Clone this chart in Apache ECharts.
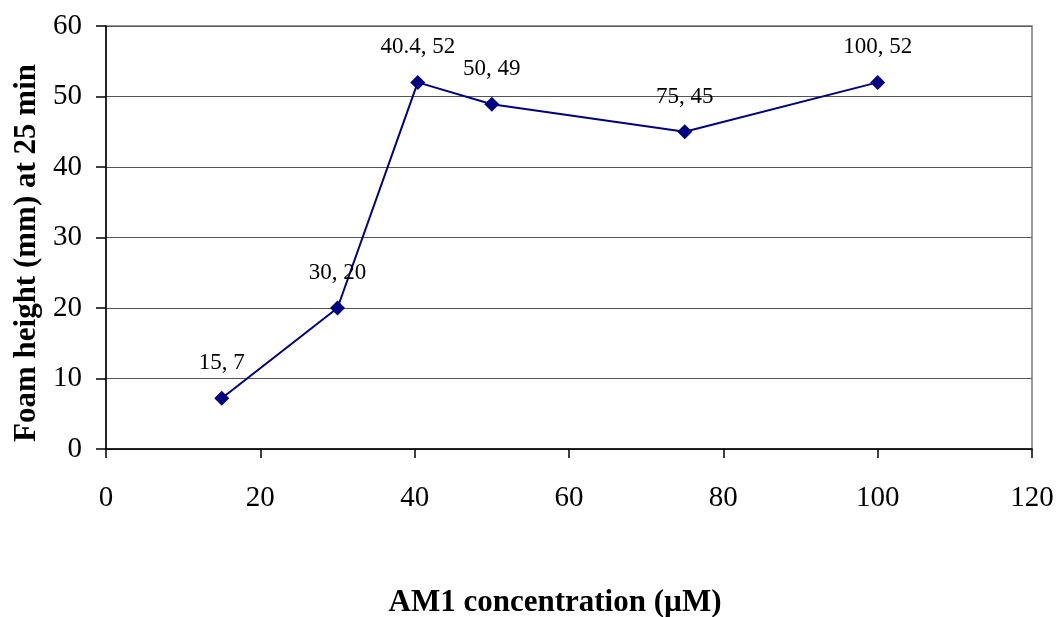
<!DOCTYPE html>
<html>
<head>
<meta charset="utf-8">
<script src="https://cdn.jsdelivr.net/npm/echarts@6/dist/echarts.min.js"></script>
<style>
html,body{margin:0;padding:0;background:#fff;}
#chart{width:1059px;height:617px;}
</style>
</head>
<body>
<div id="chart"></div>
<script>
const concentrations = [15, 30, 40.4, 50, 75, 100];
const foamHeights = [7.2, 20, 52, 48.9, 45, 52];
const pointLabels = ['15, 7', '30, 20', '40.4, 52', '50, 49', '75, 45', '100, 52'];
const xTitle = 'AM1 concentration (µM)';
const yTitle = 'Foam height (mm) at 25 min';

const FONT = '"Liberation Serif", "Times New Roman", serif';
const chart = echarts.init(document.getElementById('chart'));
chart.setOption({
  animation: false,
  backgroundColor: '#fff',
  grid: { left: 106, right: 27, top: 26, bottom: 168, show: true, borderColor: '#999', borderWidth: 2, backgroundColor: 'transparent' },
  xAxis: {
    type: 'value', min: 0, max: 120, interval: 20,
    axisLine: { show: true, onZero: false, lineStyle: { color: '#000', width: 1.5 } },
    axisTick: { show: true, inside: false, length: 9, lineStyle: { color: '#000', width: 1.5 } },
    axisLabel: { color: '#000', fontFamily: FONT, fontSize: 29, margin: 35 },
    splitLine: { show: false }
  },
  yAxis: {
    type: 'value', min: 0, max: 60, interval: 10,
    axisLine: { show: true, lineStyle: { color: '#000', width: 1.5 } },
    axisTick: { show: true, inside: false, length: 10, lineStyle: { color: '#000', width: 1.5 } },
    axisLabel: { color: '#000', fontFamily: FONT, fontSize: 29, margin: 24 },
    splitLine: { show: true, lineStyle: { color: '#555', width: 1 } }
  },
  graphic: [
    { type: 'text', x: 27, y: 253, rotation: Math.PI / 2,
      style: { text: yTitle, font: 'bold 31px ' + FONT, fill: '#000', textAlign: 'center', textVerticalAlign: 'middle' } },
    { type: 'text', x: 555, y: 603,
      style: { text: xTitle, font: 'bold 31px ' + FONT, fill: '#000', textAlign: 'center', textVerticalAlign: 'middle' } }
  ],
  series: [{
    type: 'line',
    data: concentrations.map((c, i) => [c, foamHeights[i]]),
    symbol: 'diamond', symbolSize: 15,
    lineStyle: { color: '#000080', width: 2 },
    itemStyle: { color: '#000080' },
    label: {
      show: true, position: 'top', distance: 16,
      color: '#000', fontFamily: FONT, fontSize: 23,
      formatter: p => pointLabels[p.dataIndex]
    }
  }]
});
</script>
</body>
</html>
